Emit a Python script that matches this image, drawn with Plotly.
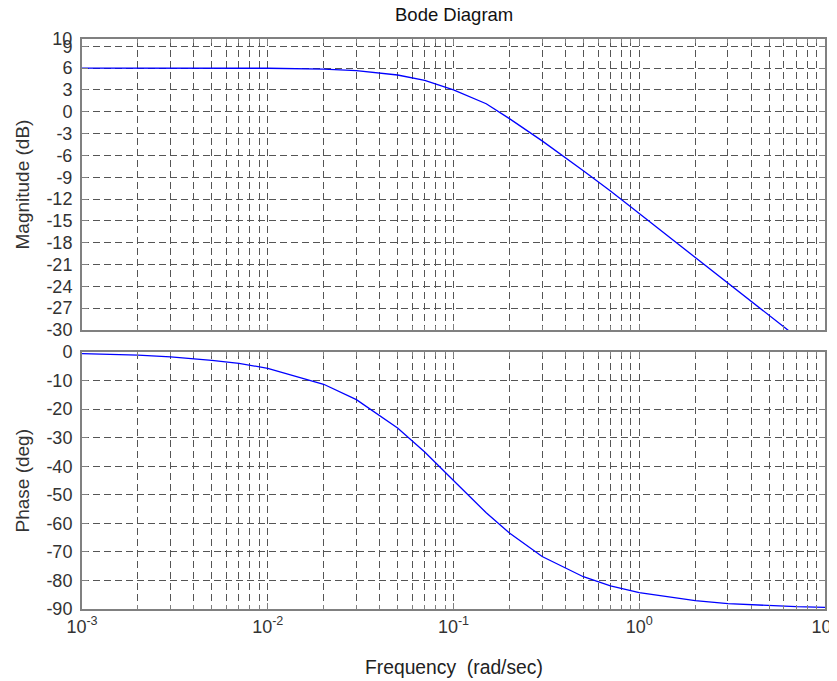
import plotly.graph_objects as go

# ---- data ----
freq_mag = [0.001, 0.002, 0.005, 0.01, 0.02, 0.03, 0.05, 0.07, 0.1, 0.15, 0.2, 0.3,
            0.5, 0.7, 1, 2, 3, 5, 7, 10]
magnitude_db = [6.0, 6.0, 6.0, 5.98, 5.85, 5.65, 5.05, 4.3, 3.0, 1.1, -0.95, -4.0,
                -8.1, -10.9, -14.0, -20.0, -23.5, -28.0, -30.9, -34.0]

freq_phase = [0.001, 0.002, 0.003, 0.005, 0.007, 0.01, 0.02, 0.03, 0.05, 0.07, 0.1,
              0.15, 0.2, 0.3, 0.5, 0.7, 1, 2, 3, 5, 7, 10]
phase_deg = [-0.6, -1.1, -1.7, -2.9, -4.0, -5.7, -11.3, -16.7, -26.6, -35.0, -45.0,
             -56.3, -63.4, -71.6, -78.7, -81.9, -84.3, -87.1, -88.1, -88.9, -89.2, -89.4]

x_tickvals = [0.001, 0.01, 0.1, 1, 10]
x_ticktext = ["10<sup>-3</sup>", "10<sup>-2</sup>", "10<sup>-1</sup>", "10<sup>0</sup>", "10<sup>1</sup>"]
mag_ticks = [-30, -27, -24, -21, -18, -15, -12, -9, -6, -3, 0, 3, 6, 9, 10]
phase_ticks = [-90, -80, -70, -60, -50, -40, -30, -20, -10, 0]

title_text = "Bode Diagram"
mag_label = "Magnitude (dB)"
phase_label = "Phase (deg)"
freq_label = "Frequency\u00a0\u00a0(rad/sec)"

# ---- styling ----
FONT = "Liberation Sans, Arial, sans-serif"
GRID = "#555555"
FRAME = "#808080"
DASH = "7px,4px"
minor_vals = [m * 10 ** e for e in range(-3, 1) for m in range(2, 10)]

# page body has an 8px offset: size the figure so the plot area lands where the reference has it
W, H = 829, 673
L, R, T, B = 74, 12, 31, 72
PW = W - L - R
PH = H - T - B

fig = go.Figure()
fig.add_trace(go.Scatter(x=freq_mag, y=magnitude_db, mode="lines",
                         line=dict(color="#0000ff", width=1.3),
                         xaxis="x", yaxis="y", showlegend=False))
fig.add_trace(go.Scatter(x=freq_phase, y=phase_deg, mode="lines",
                         line=dict(color="#0000ff", width=1.3),
                         xaxis="x2", yaxis="y2", showlegend=False))

def xax(show_labels, anchor):
    return dict(type="log", range=[-3, 1], anchor=anchor, domain=[0, 1],
                automargin=False, ticklabeloverflow="allow",
                tickmode="array", tickvals=x_tickvals, ticktext=x_ticktext,
                showticklabels=show_labels, ticks="inside", ticklen=6,
                tickcolor=FRAME, showline=True, linecolor=FRAME, linewidth=2,
                mirror="ticks", showgrid=True, gridcolor=GRID, gridwidth=1,
                griddash=DASH, zeroline=False,
                tickfont=dict(family=FONT, size=18, color="#333333"),
                minor=dict(tickmode="array", tickvals=minor_vals, ticks="inside",
                           ticklen=4, tickcolor=FRAME, showgrid=True,
                           gridcolor=GRID, gridwidth=1, griddash=DASH))

def yax(rng, ticks, dom, anchor):
    return dict(range=rng, domain=dom, anchor=anchor, tickmode="array",
                automargin=False, ticklabeloverflow="allow",
                tickvals=ticks, ticktext=[str(t) for t in ticks],
                ticks="inside", ticklen=6, tickcolor=FRAME, showline=True,
                linecolor=FRAME, linewidth=2, mirror="ticks", showgrid=True,
                gridcolor=GRID, gridwidth=1, griddash=DASH, zeroline=False,
                ticklabelstandoff=4,
                tickfont=dict(family=FONT, size=18, color="#333333"))

top_dom = [(PH - 291) / PH, 1.0]
bot_dom = [0.0, 257 / PH]

fig.update_layout(
    width=W, height=H,
    margin=dict(l=L, r=R, t=T, b=B),
    paper_bgcolor="white", plot_bgcolor="white",
    xaxis=xax(False, "y"),
    xaxis2=xax(True, "y2"),
    yaxis=yax([-30, 10], mag_ticks, top_dom, "x"),
    yaxis2=yax([-90, 0], phase_ticks, bot_dom, "x2"),
    annotations=[
        dict(text=title_text, xref="paper", yref="paper", x=0.5, y=1 + 25 / PH,
             xanchor="center", yanchor="middle", showarrow=False,
             font=dict(family=FONT, size=18.5, color="#111111")),
        dict(text=mag_label, xref="paper", yref="paper", x=-60 / PW,
             y=(top_dom[0] + 1) / 2, xanchor="center", yanchor="middle",
             textangle=-90, showarrow=False,
             font=dict(family=FONT, size=19, color="#333333")),
        dict(text=phase_label, xref="paper", yref="paper", x=-60 / PW,
             y=bot_dom[1] / 2, xanchor="center", yanchor="middle",
             textangle=-90, showarrow=False,
             font=dict(family=FONT, size=19, color="#333333")),
        dict(text=freq_label, xref="paper", yref="paper", x=0.5,
             y=-58 / PH, xanchor="center", yanchor="middle", showarrow=False,
             font=dict(family=FONT, size=19.3, color="#222222")),
    ],
)

fig.write_html("out.html")
